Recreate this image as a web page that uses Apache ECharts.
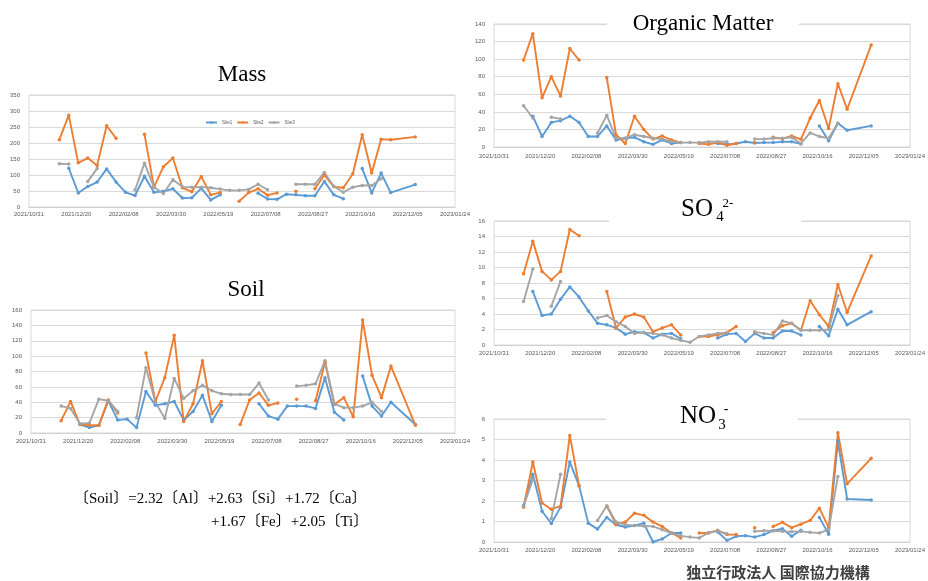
<!DOCTYPE html>
<html><head><meta charset="utf-8">
<script src="https://cdn.jsdelivr.net/npm/echarts@6/dist/echarts.min.js"></script>
<style>html,body{margin:0;padding:0;background:#fff}#c{width:928px;height:581px}</style>
</head><body><div id="c"></div>
<script>
// ---- data ----
const sampleDates = ['2021/12/02','2021/12/12','2021/12/22','2022/01/01','2022/01/11','2022/01/21','2022/01/31',
 '2022/02/10','2022/02/20','2022/03/02','2022/03/12','2022/03/22','2022/04/01','2022/04/11','2022/04/21',
 '2022/05/01','2022/05/11','2022/05/21','2022/05/31','2022/06/10','2022/06/20','2022/06/30','2022/07/10',
 '2022/07/20','2022/07/30','2022/08/09','2022/08/19','2022/08/29','2022/09/08','2022/09/18','2022/09/28',
 '2022/10/08','2022/10/18','2022/10/28','2022/11/07','2022/11/17','2022/12/13'];
const siteNames = ['Site1','Site2','Site3'];
const xAxisStart = '2021/10/31';
const xAxisEnd = '2023/01/24';

const massSite1 = [null,121,44,64,78,119,78,46,36,96,46,49,57,28,29,58,22,38,null,null,null,43,25,24,40,38,35,35,80,38,26,null,120,44,106,45,70];
const massSite2 = [210,287,138,153,130,254,215,null,null,227,62,126,153,60,48,95,38,45,null,18,45,57,37,44,null,49,null,57,100,63,60,103,226,106,212,210,219];
const massSite3 = [135,134,null,80,120,null,null,null,53,137,62,42,85,63,62,62,60,56,52,52,55,71,54,null,null,71,71,71,108,65,46,62,67,67,88,null,null];

const soilSite1 = [null,null,11,7,10,42,17,18,7,54,36,38,41,17,28,49,15,36,null,null,null,38,22,18,35,35,35,32,72,27,17,null,74,35,22,40,11];
const soilSite2 = [16,41,11,10,10,43,26,null,null,104,41,72,127,15,38,94,25,41,null,11,43,52,36,39,null,44,null,42,92,37,46,21,147,75,46,87,10];
const soilSite3 = [35,32,12,13,44,42,28,null,20,85,40,19,71,45,55,62,55,51,50,50,50,65,43,null,null,61,62,64,94,38,33,33,35,40,28,null,null];

const orgSite1 = [null,35,12,28,30,35,28,12,12,24,8,10,11,6,3,8,4,5,null,null,null,4,3,4,6,4.5,5,5,6,6,3.5,null,24,7,27,19,24];
const orgSite2 = [99,129,56,80,58,112,99,null,null,79,14,4,35,20,9,12.5,8,5,null,4,3,5,2,4,null,5,null,11,9.5,12.5,8.7,33,53,21,72,43,116];
const orgSite3 = [47,33,null,34,32,null,null,null,16,36,10,10,14,12,10,9,6,5,5,5,6,6,6,null,null,9,9,10,10,11,4,16,12,10,27,null,null];

const so4Site1 = [null,6.9,3.8,4.0,5.9,7.5,6.2,4.4,2.8,2.6,2.2,1.4,1.7,1.6,0.9,1.4,1.5,0.8,null,null,null,0.9,1.4,1.5,0.45,1.5,0.9,0.9,1.8,1.8,1.3,null,2.4,1.2,4.6,2.6,4.3];
const so4Site2 = [9.2,13.4,9.5,8.4,9.5,14.9,14.1,null,null,6.9,2.2,3.6,4.0,3.6,1.7,2.2,2.6,1.3,null,1.1,1.1,1.3,1.6,2.4,null,1.6,null,1.6,2.5,2.8,1.9,5.7,3.9,2.4,7.8,4.2,11.5];
const so4Site3 = [5.6,9.8,null,5.0,8.2,null,null,null,3.5,3.8,3.0,2.4,1.5,1.6,1.5,1.3,0.9,0.6,0.35,1.1,1.3,1.5,1.6,null,null,1.7,1.5,1.3,3.1,2.8,1.9,1.9,1.9,2.0,6.4,null,null];

const no3Site1 = [1.78,3.3,1.5,0.9,1.7,3.9,2.75,0.92,0.63,1.2,0.84,0.73,0.8,0.92,0.0,0.15,0.44,0.44,null,null,null,0.49,0.08,0.28,0.31,0.24,0.36,0.55,0.65,0.28,0.57,null,1.2,0.38,4.9,2.1,2.05];
const no3Site2 = [1.7,3.9,1.9,1.6,1.75,5.2,2.75,null,null,1.75,0.87,0.97,1.4,1.3,0.97,0.76,0.44,0.2,null,0.44,0.44,0.57,0.36,0.36,null,0.7,null,0.76,0.96,0.7,0.87,1.05,1.65,0.7,5.33,2.84,4.08];
const no3Site3 = [1.75,3.05,null,1.15,3.3,null,null,null,1.05,1.77,0.97,0.85,0.8,0.78,0.76,0.6,0.44,0.3,0.24,0.2,0.45,0.55,0.4,null,null,0.52,0.55,0.55,0.52,0.5,0.52,0.47,0.44,0.6,3.2,null,null];

const yMaxes = {mass:350, soil:160, org:140, so4:16, no3:6};
const yIntervals = {mass:50, soil:20, org:20, so4:2, no3:1};

// ---- build ----
const DAY = 86400000;
function toUTC(s){const p=s.split('/').map(Number);return Date.UTC(p[0],p[1]-1,p[2]);}
const BASE = toUTC(xAxisStart);
const dayOf = s => (toUTC(s)-BASE)/DAY;
const xMax = dayOf(xAxisEnd);
const pad = n => String(n).padStart(2,'0');
function fmtDay(v){const d=new Date(BASE+v*DAY);return d.getUTCFullYear()+'/'+pad(d.getUTCMonth()+1)+'/'+pad(d.getUTCDate());}
const xs = sampleDates.map(dayOf);
const colors = ['#5B9BD5','#ED7D31','#A5A5A5'];

const panels = [
  {key:'mass', data:[massSite1,massSite2,massSite3], grid:{left:29,top:95,width:426,height:112}, xMargin:4},
  {key:'soil', data:[soilSite1,soilSite2,soilSite3], grid:{left:31,top:310,width:424,height:123}, xMargin:5},
  {key:'org',  data:[orgSite1,orgSite2,orgSite3],   grid:{left:494,top:24,width:418,height:123}, xMargin:6},
  {key:'so4',  data:[so4Site1,so4Site2,so4Site3],   grid:{left:494,top:221,width:418,height:124}, xMargin:5},
  {key:'no3',  data:[no3Site1,no3Site2,no3Site3],   grid:{left:494,top:419,width:418,height:123}, xMargin:5}
];

const grids=[], xAxes=[], yAxes=[], series=[];
panels.forEach((p,i)=>{
  grids.push(Object.assign({show:true, borderColor:'#d9d9d9', borderWidth:1, backgroundColor:'#fff'}, p.grid));
  xAxes.push({type:'value', gridIndex:i, min:0, max:xMax, interval:50,
    axisLine:{show:true, lineStyle:{color:'#d0d0d0'}}, axisTick:{show:false}, splitLine:{show:false},
    axisLabel:{fontSize:6, color:'#595959', margin:p.xMargin, formatter:fmtDay, fontFamily:'Liberation Sans'}});
  yAxes.push({type:'value', gridIndex:i, min:0, max:yMaxes[p.key], interval:yIntervals[p.key],
    axisLine:{show:false}, axisTick:{show:false},
    splitLine:{lineStyle:{color:'#d9d9d9', width:1}},
    axisLabel:{fontSize:6, color:'#595959', margin:9, fontFamily:'Liberation Sans'}});
  p.data.forEach((vals,s)=>{
    series.push({type:'line', name:siteNames[s], xAxisIndex:i, yAxisIndex:i,
      data: vals.map((v,j)=>[xs[j], v==null?'-':v]),
      symbol:'circle', symbolSize:3.5, showSymbol:true, connectNulls:false,
      lineStyle:{width:1.9, color:colors[s]}, itemStyle:{color:colors[s]},
      emphasis:{disabled:true}, animation:false});
  });
});

const serif = '"Liberation Serif","Times New Roman",serif';
const cjkSerif = '"Liberation Serif","Noto Sans CJK JP",serif';
function txt(x,y,text,size,opts){return Object.assign({type:'text', x, y, z:100,
  style:Object.assign({text, font:size+'px '+serif, fill:'#000', textAlign:'center', textVerticalAlign:'middle'}, opts||{})});}

const graphics = [
  {type:'rect', shape:{x:607,y:8,width:192,height:32}, style:{fill:'#fff'}, z:99},
  {type:'rect', shape:{x:609,y:196,width:192,height:27}, style:{fill:'#fff'}, z:99},
  {type:'rect', shape:{x:606,y:402,width:192,height:19}, style:{fill:'#fff'}, z:99},
  txt(242,75,'Mass',23),
  txt(246,290,'Soil',23),
  txt(703,24,'Organic Matter',23),
  txt(697,209,'SO',25),
  txt(720,217,'4',15),
  txt(728,204,'2-',13),
  txt(698,416,'NO',25),
  txt(722,425,'3',15),
  txt(726,409,'-',14),
  {type:'text', x:74, y:499, z:100, style:{text:'〔Soil〕=2.32〔Al〕+2.63〔Si〕+1.72〔Ca〕', font:'15px '+cjkSerif, fill:'#000', textAlign:'left', textVerticalAlign:'middle'}},
  {type:'text', x:211, y:522, z:100, style:{text:'+1.67〔Fe〕+2.05〔Ti〕', font:'15px '+cjkSerif, fill:'#000', textAlign:'left', textVerticalAlign:'middle'}},
  {type:'text', x:778, y:572, z:100, style:{text:'独立行政法人 国際協力機構', font:'bold 15px "Noto Sans CJK JP"', fill:'#404040', textAlign:'center', textVerticalAlign:'middle'}}
];

const chart = echarts.init(document.getElementById('c'));
chart.setOption({
  animation:false,
  backgroundColor:'#fff',
  color:colors,
  legend:{data:siteNames, left:200, top:115, itemWidth:11, itemHeight:3, itemGap:4,
    textStyle:{fontSize:4.5, color:'#595959'}},
  grid:grids, xAxis:xAxes, yAxis:yAxes, series:series, graphic:graphics
});
</script></body></html>
